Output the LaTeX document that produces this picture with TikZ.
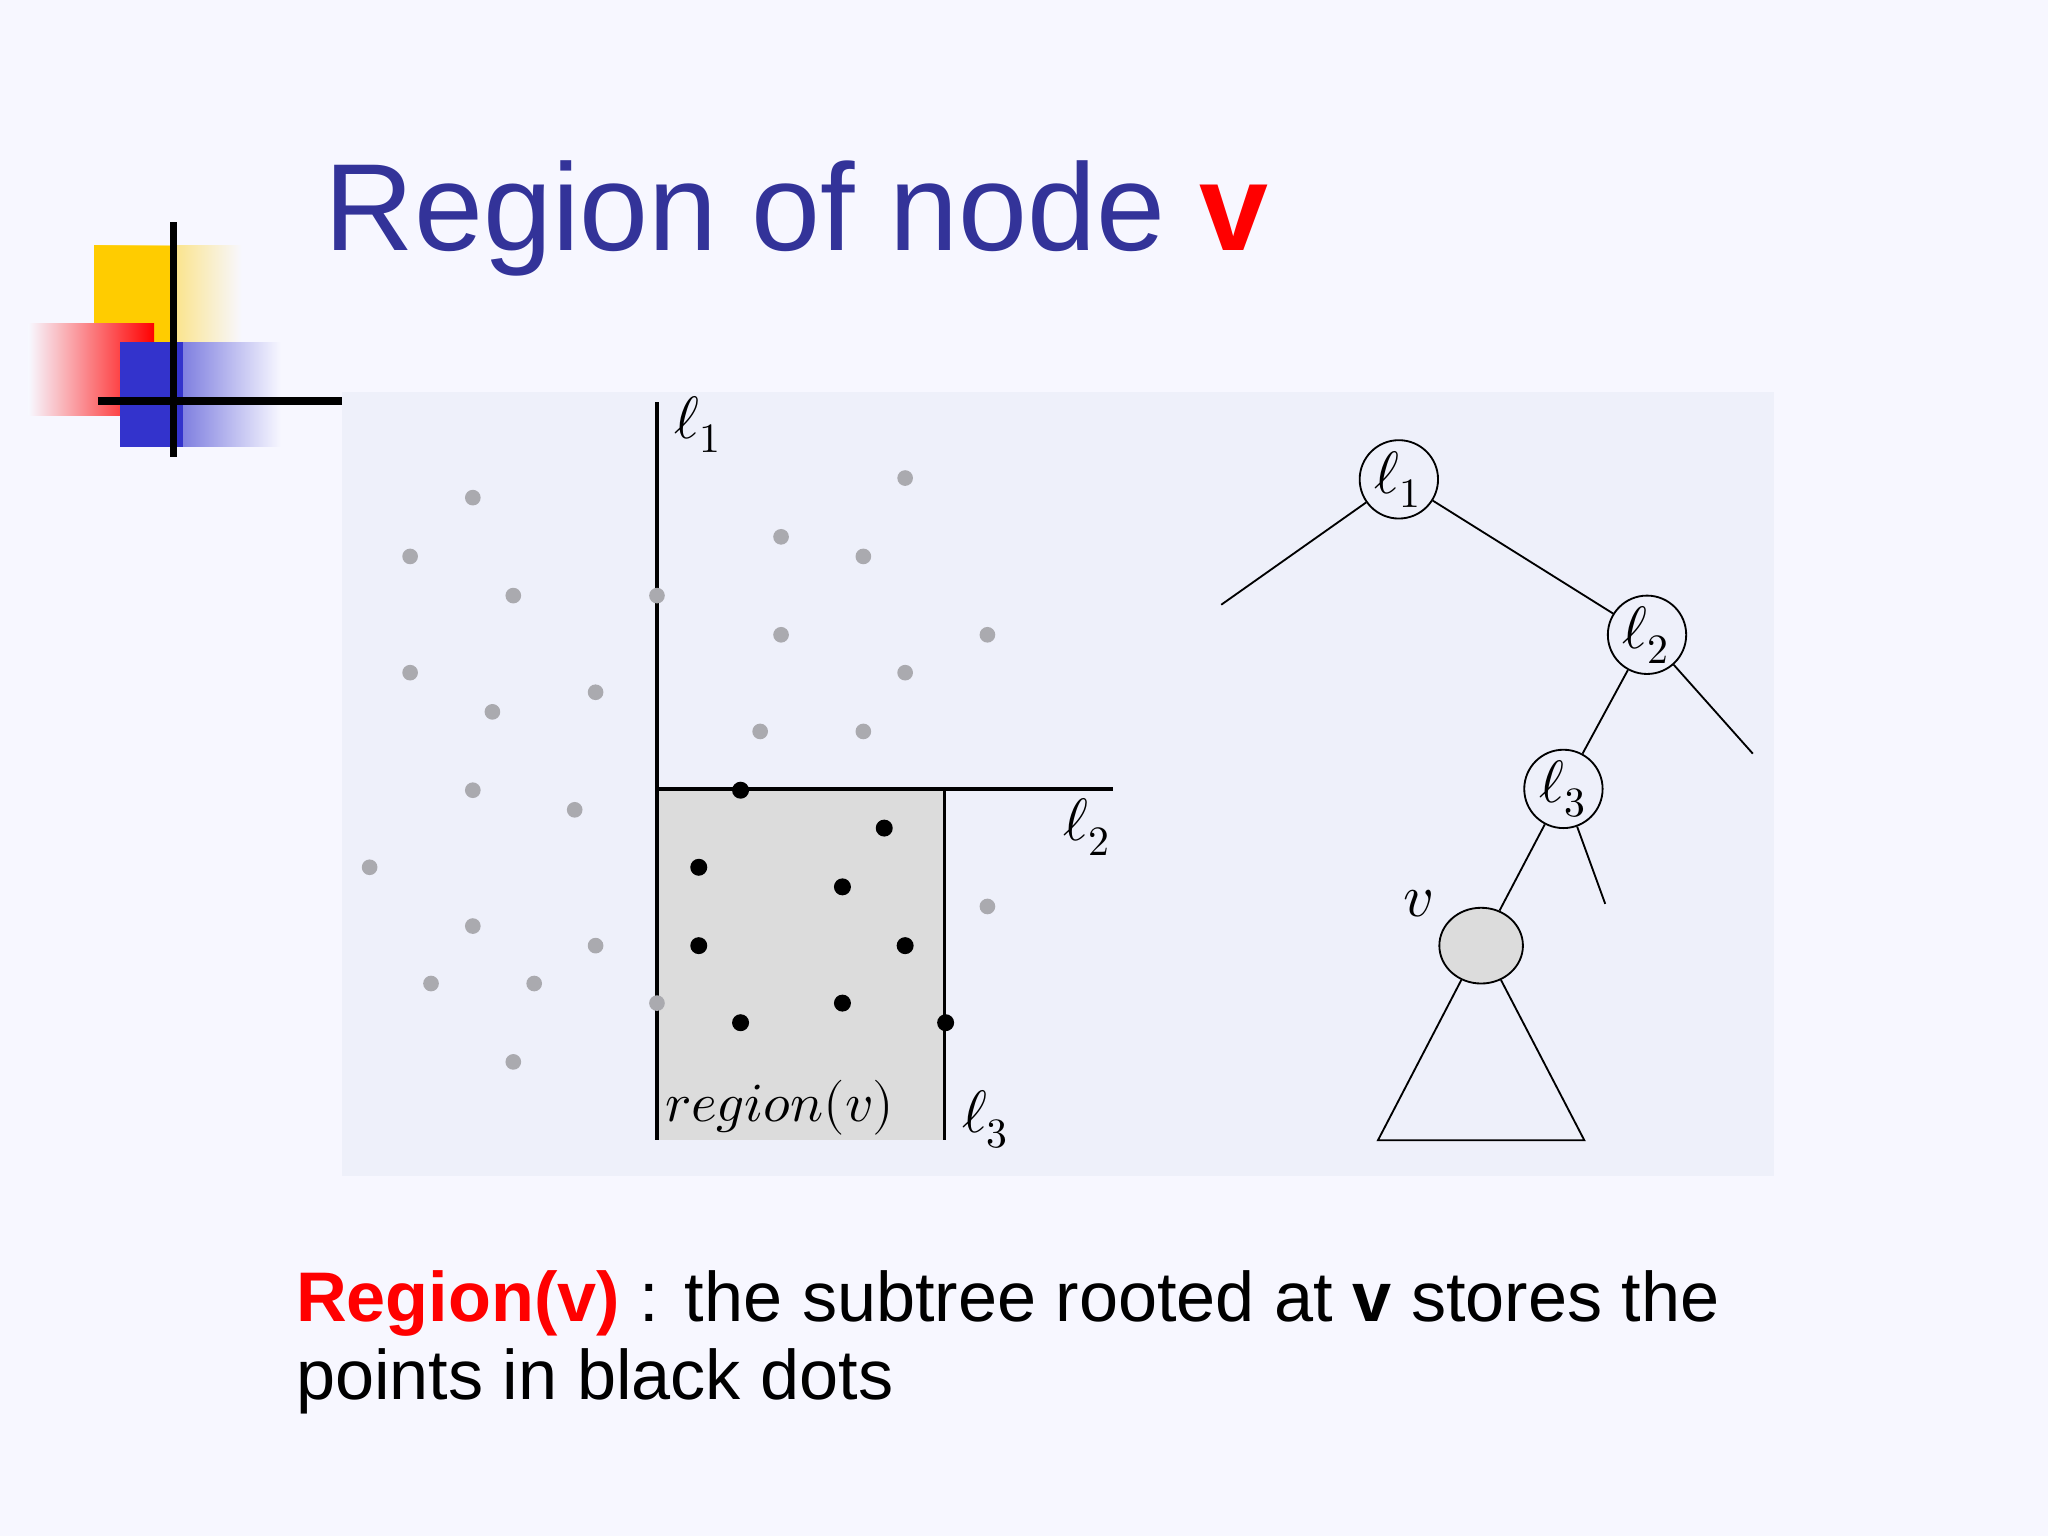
\documentclass[tikz,border=0pt]{standalone}
\usepackage{fontspec}
\setmainfont{Liberation Sans}
\usepackage{unicode-math}
\setmathfont{Latin Modern Math}
\usetikzlibrary{shapes.geometric}
\definecolor{titleblue}{RGB}{51,51,153}
\definecolor{panel}{RGB}{238,240,250}
\definecolor{gdot}{RGB}{170,170,175}
\definecolor{regiongray}{RGB}{220,220,220}
\definecolor{lyellow}{RGB}{255,204,0}
\definecolor{lblue}{RGB}{51,51,204}
\tikzset{
 gd/.style={circle,fill=gdot,inner sep=0pt,minimum size=1.2mm},
 bd/.style={circle,fill=black,inner sep=0pt,minimum size=1.3mm},
 tn/.style={circle,draw,fill=panel,minimum size=6mm,inner sep=0pt},
 lab/.style={font=\fontsize{13}{15}\selectfont}
}
\begin{document}
\begin{tikzpicture}[x=0.1mm,y=-0.1mm]
\fill[white!97!blue] (0,0) rectangle (1568,1176);
\useasboundingbox (0,0) rectangle (1568,1176);
% logo
\shade[left color=lyellow,right color=white!97!blue] (72,188) rectangle (185,262);
\fill[lyellow] (72,188) rectangle (130,262);
\shade[left color=white!97!blue,right color=red] (22,248) rectangle (118,318);
\shade[left color=lblue,right color=white!97!blue] (92,262) rectangle (215,342);
\fill[lblue] (92,262) rectangle (140,342);
\draw[line width=1.6] (133,170) -- (133,350);
\draw[line width=1.6] (75,307) -- (262,307);
% title
\node[anchor=base west,text=titleblue,font=\fontsize{27}{30}\selectfont,inner sep=0] (title) at (248,192) {Region of node \textcolor{red}{\textbf{v}}};
% panel
\fill[panel] (262,300) rectangle (1358,900);
\fill[regiongray] (503,604) rectangle (723,873);
\coordinate (l1t) at (503,308); \coordinate (l1b) at (503,873);
\coordinate (l2l) at (503,604); \coordinate (l2r) at (852,604);
\coordinate (l3t) at (723,604); \coordinate (l3b) at (723,873);
\draw[line width=0.7] (l1t) -- (l1b);
\draw[line width=0.7] (l2l) -- (l2r);
\draw[line width=0.7] (l3t) -- (l3b);
\node[lab] (a1) at (535,325) {$\ell_1$};
\node[lab] (a2) at (833,633) {$\ell_2$};
\node[lab] (a3) at (755,857) {$\ell_3$};
\node[font=\fontsize{12}{14}\selectfont] (rv) at (597,848) {$\symit{region}(v)$};
\foreach \p [count=\i] in {(362,381),(314,426),(393,456),(503,456),(314,515),(377,545),(456,530),(362,605),(440,620),(283,664),(362,709),(456,724),(330,753),(409,753),(393,813),(503,768),(598,411),(661,426),(693,366),(598,486),(756,486),(693,515),(582,560),(661,560),(756,694)}
  \node[gd] (g\i) at \p {};
\foreach \p [count=\i] in {(567,605),(677,634),(535,664),(645,679),(535,724),(693,724),(567,783),(645,768),(724,783)}
  \node[bd] (b\i) at \p {};
% tree
\node[tn] (t1) at (1071,367) {\fontsize{13}{15}\selectfont$\ell_1$};
\node[tn] (t2) at (1261,486) {\fontsize{13}{15}\selectfont$\ell_2$};
\node[tn] (t3) at (1197,604) {\fontsize{13}{15}\selectfont$\ell_3$};
\node[ellipse,draw,fill=regiongray,minimum width=6.4mm,minimum height=5.8mm,inner sep=0] (v) at (1134,724) {};
\node[lab] (vl) at (1086,692) {$v$};
\coordinate (e1) at (935,463);
\coordinate (e2) at (1342,577);
\coordinate (e3) at (1229,692);
\coordinate (tl) at (1055,873);
\coordinate (tr) at (1213,873);
\draw (t1) -- (e1);
\draw (t1) -- (t2);
\draw (t2) -- (e2);
\draw (t2) -- (t3);
\draw (t3) -- (e3);
\draw (t3) -- (v);
\draw (v.240) -- (tl) -- (tr) -- (v.300);
% text
\node[anchor=north west,inner sep=0,font=\fontsize{15.3}{17}\selectfont,align=left] (body) at (226,972)
 {\textcolor{red}{\textbf{Region(v)}} : the subtree rooted at \textbf{v} stores the\\ points in black dots};
\end{tikzpicture}
\end{document}
